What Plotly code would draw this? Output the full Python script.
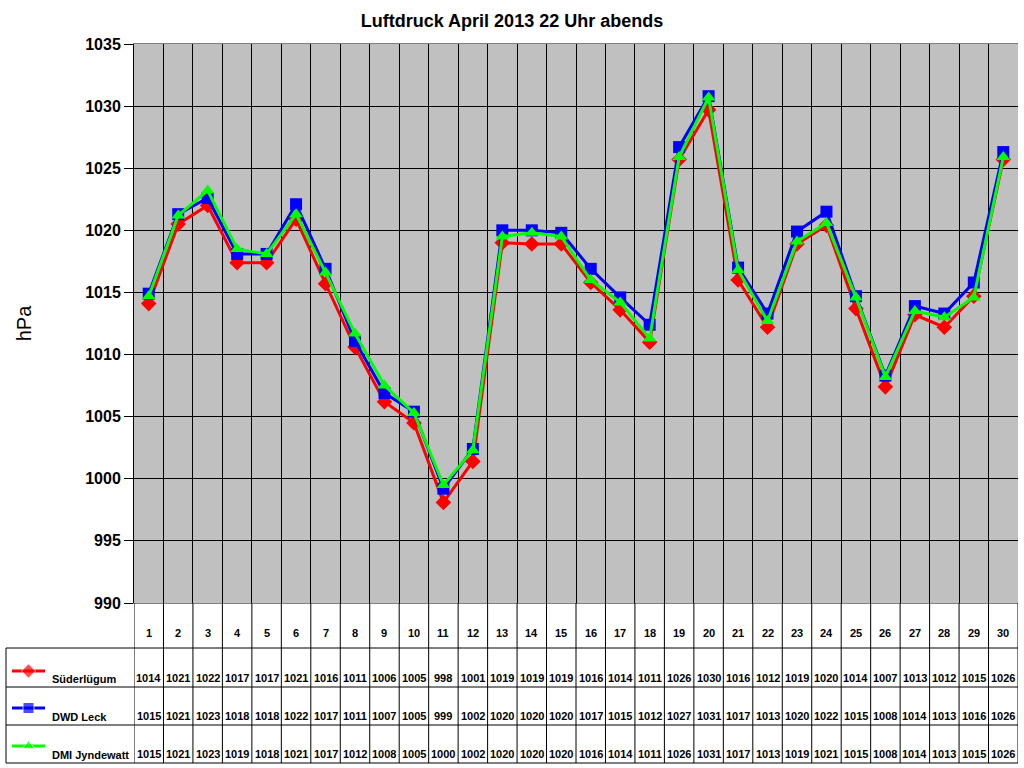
import plotly.graph_objects as go

# Tage im April 2013
tage = list(range(1, 31))

# Luftdruck um 22 Uhr (hPa)
suederluegum = [1014.1, 1020.5, 1022.0, 1017.4, 1017.4, 1020.9, 1015.7, 1010.6, 1006.2, 1004.5,
                998.1, 1001.4, 1019.0, 1018.9, 1018.9, 1015.8, 1013.6, 1011.0, 1025.7, 1029.7,
                1016.0, 1012.2, 1018.9, 1020.4, 1013.7, 1007.4, 1013.2, 1012.2, 1014.7, 1025.7]
dwd_leck = [1014.9, 1021.3, 1022.6, 1018.1, 1018.1, 1022.1, 1016.9, 1011.1, 1006.9, 1005.4,
            999.2, 1002.4, 1020.0, 1020.0, 1019.8, 1016.9, 1014.6, 1012.4, 1026.7, 1030.8,
            1017.0, 1013.3, 1019.9, 1021.5, 1014.7, 1008.3, 1013.9, 1013.3, 1015.8, 1026.3]
dmi_jyndewatt = [1014.7, 1021.2, 1023.2, 1018.5, 1018.1, 1021.3, 1016.6, 1011.7, 1007.5, 1005.3,
                 999.5, 1002.3, 1019.5, 1019.8, 1019.5, 1016.0, 1014.2, 1011.3, 1025.9, 1030.7,
                 1016.8, 1012.7, 1019.1, 1020.6, 1014.6, 1008.2, 1013.5, 1013.0, 1014.6, 1025.9]

stationen = ["Süderlügum", "DWD Leck", "DMI Jyndewatt"]
farben = ["#FF0000", "#0000FF", "#00FF00"]
symbole = ["diamond", "square", "triangle-up"]
reihen = [suederluegum, dwd_leck, dmi_jyndewatt]

W, H = 1024, 768
def px(x):
    return x / W
def py(y):
    return 1 - y / H

fig = go.Figure()

for name, werte, farbe, sym in zip(stationen, reihen, farben, symbole):
    fig.add_trace(go.Scatter(
        x=tage, y=werte, mode="lines+markers", name=name,
        line=dict(color=farbe, width=3),
        marker=dict(symbol=sym, size=12, color=farbe),
        cliponaxis=False,
    ))

# Legendensymbole in der Tabelle (Pixelachse ueber die ganze Flaeche)
key_y = [671, 708, 746]
for farbe, sym, ky in zip(farben, symbole, key_y):
    fig.add_trace(go.Scatter(
        x=[12, 28.5, 45], y=[ky, ky, ky], mode="lines+markers",
        line=dict(color=farbe, width=3),
        marker=dict(symbol=sym, size=[0, 11, 0], color=farbe),
        xaxis="x2", yaxis="y2", showlegend=False, hoverinfo="skip",
    ))

# grauer Hintergrund der Zeichenflaeche
shapes = [dict(type="rect", xref="x domain", yref="y domain", x0=0, x1=1, y0=0, y1=1,
               fillcolor="#C0C0C0", line=dict(width=0), layer="below")]
# senkrechte Spaltenlinien von der Zeichenflaeche bis zum Tabellenende
for i in range(len(tage) + 1):
    shapes.append(dict(type="line", xref="x", yref="paper",
                       x0=0.5 + i, x1=0.5 + i, y0=py(763), y1=py(603),
                       line=dict(color="black", width=1)))
# waagrechte Tabellenlinien
for yy in [648, 687, 725, 763]:
    shapes.append(dict(type="line", xref="paper", yref="paper",
                       x0=px(6), x1=px(1018), y0=py(yy), y1=py(yy),
                       line=dict(color="black", width=1)))
shapes.append(dict(type="line", xref="paper", yref="paper",
                   x0=px(6), x1=px(6), y0=py(763), y1=py(648),
                   line=dict(color="black", width=1)))

annotations = []
tab_font = dict(family="Liberation Sans, Arial", size=11, color="black")
for t in tage:
    annotations.append(dict(x=t, y=py(633), xref="x", yref="paper", text="<b>%d</b>" % t,
                            showarrow=False, yanchor="middle", font=tab_font))
row_y = [679, 717, 755]
for name, werte, ry in zip(stationen, reihen, row_y):
    annotations.append(dict(x=px(50), y=py(ry), xref="paper", yref="paper",
                            text="<b>%s</b>" % name, showarrow=False, xanchor="left",
                            yanchor="middle", font=tab_font))
    for t, v in zip(tage, werte):
        annotations.append(dict(x=t, y=py(ry - 1), xref="x", yref="paper",
                                text="<b>%d</b>" % int(v + 0.5), showarrow=False,
                                yanchor="middle", font=tab_font))

fig.update_layout(
    width=W, height=H,
    margin=dict(l=0, r=0, t=0, b=0, autoexpand=False),
    paper_bgcolor="white",
    plot_bgcolor="rgba(0,0,0,0)",
    showlegend=False,
    title=dict(text="<b>Luftdruck April 2013 22 Uhr abends</b>", x=0.5, xanchor="center",
               y=py(21), yanchor="middle",
               font=dict(family="Liberation Sans, Arial", size=18, color="black")),
    xaxis=dict(domain=[px(134), px(1018)], range=[0.5, 30.5], automargin=False,
               tickmode="linear", tick0=0.5, dtick=1, showticklabels=False,
               showgrid=True, gridcolor="black", gridwidth=1, zeroline=False,
               ticks="", showline=True, linecolor="#808080", mirror=True),
    yaxis=dict(domain=[py(603), py(44)], range=[990, 1035], dtick=5, automargin=False,
               showgrid=True, gridcolor="black", gridwidth=1, zeroline=False,
               ticks="outside", ticklen=9, tickcolor="black",
               showline=True, linecolor="black", mirror=False,
               tickprefix="<b>", ticksuffix="</b>",
               tickfont=dict(family="Liberation Sans, Arial", size=16, color="black"),
               title=dict(text="hPa", standoff=48,
                          font=dict(family="Liberation Sans, Arial", size=20, color="black"))),
    xaxis2=dict(domain=[0, 1], range=[0, W], visible=False, fixedrange=True,
                anchor="y2", automargin=False),
    yaxis2=dict(domain=[0, 1], range=[H, 0], visible=False, fixedrange=True,
                anchor="x2", automargin=False),
    shapes=shapes,
    annotations=annotations,
)

fig.write_html("out.html", config={"displayModeBar": False},
               post_script="document.body.style.margin='0';")
